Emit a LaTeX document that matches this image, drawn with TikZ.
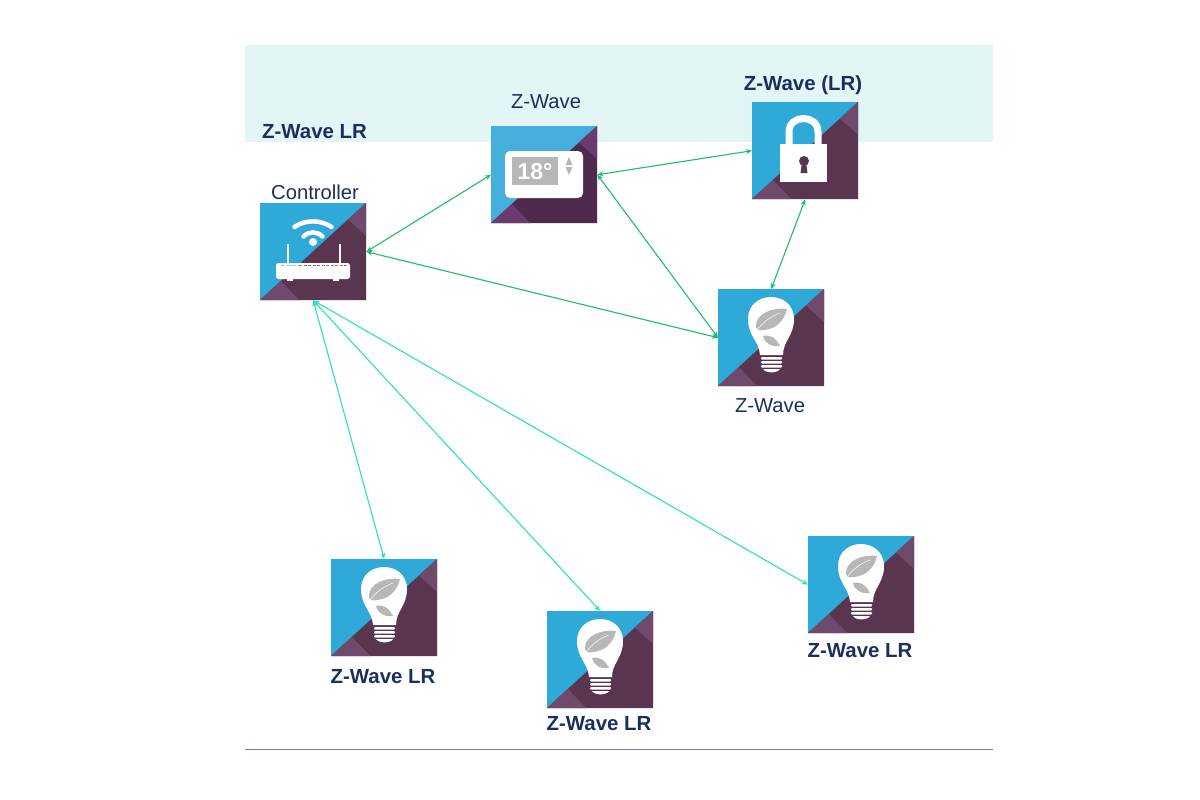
\documentclass[tikz,border=0pt]{standalone}
\usepackage{fontspec}
\setmainfont{Liberation Sans}
\usetikzlibrary{arrows.meta}
\definecolor{bandc}{HTML}{E4F5F6}
\definecolor{rulec}{HTML}{7E72C4}
\definecolor{inkc}{HTML}{1B2F5E}
\definecolor{bluea}{HTML}{2EA9D8}
\definecolor{darka}{HTML}{5A3550}
\definecolor{lighta}{HTML}{6F4A6C}
\definecolor{blueb}{HTML}{45AEDD}
\definecolor{darkb}{HTML}{50294E}
\definecolor{lightb}{HTML}{6B3A6E}
\definecolor{greyc}{HTML}{B7B7B7}
\definecolor{linka}{HTML}{1FBC70}
\definecolor{linkb}{HTML}{2FE0C0}
\newcommand{\tilefill}[3]{%
    \fill[#1] (0,0) rectangle (106,97);
    \fill[#2] (0,97) -- (106,0) -- (106,97) -- cycle;
    \fill[#3] (106,0) -- (106,33) -- (88,16.5) -- cycle;
    \fill[#3] (0,97) -- (21,78) -- (39,97) -- cycle;}
\tikzset{
  tile/.style={rectangle,inner sep=0pt,minimum width=106pt,minimum height=97pt,anchor=north west},
  plain/.style={text=inkc,font=\fontsize{20.2}{24}\selectfont,inner sep=0pt},
  strong/.style={text=inkc,font=\fontsize{20.4}{24}\selectfont\bfseries,inner sep=0pt},
  linkg/.style={draw=linka,line width=1.1pt,{Stealth[length=6pt,width=5pt]}-{Stealth[length=6pt,width=5pt]}},
  linkt/.style={draw=linkb,line width=1.1pt,{Stealth[length=6pt,width=5pt]}-{Stealth[length=6pt,width=5pt]}},
  bulbicon/.pic={
    \tilefill{bluea}{darka}{lighta}
    \fill[white] (42,66) .. controls (41,52) and (30,47) .. (30,30) .. controls (30,16) and (41,8) .. (53,8) .. controls (65,8) and (76,16) .. (76,30) .. controls (76,47) and (65,52) .. (65,66) -- cycle;
    \fill[greyc] (69,20) .. controls (56,18) and (37,24) .. (38,38) .. controls (39,41) and (42,42) .. (46,41) .. controls (57,40) and (66,33) .. (69,20) -- cycle;
    \draw[white,line width=0.5pt] (40,40) .. controls (46,32) and (54,27) .. (62,24);
    \fill[greyc] (45,47) .. controls (52,45) and (58,49) .. (62,57) .. controls (54,58) and (47,55) .. (45,47) -- cycle;
    \foreach \yy in {68,72,76} {\fill[white,rounded corners=1pt] (43,\yy) rectangle (64,\yy+2.6);}
    \fill[white] (45,80) .. controls (48,84.5) and (59,84.5) .. (62,80) -- cycle;
  },
  lockicon/.pic={
    \tilefill{bluea}{darka}{lighta}
    \draw[white,line width=7pt] (37,43) -- (37,30) .. controls (37,12) and (66,12) .. (66,30) -- (66,43);
    \fill[white] (28,42) rectangle (75,80);
    \fill[darka] (52,59) circle (5);
    \fill[darka] (50,60) -- (54,60) -- (55.5,71) -- (48.5,71) -- cycle;
  },
  thermoicon/.pic={
    \tilefill{blueb}{darkb}{lightb}
    \fill[white,rounded corners=5pt] (14,25) rectangle (92,72);
    \fill[greyc] (21,31) rectangle (67,59);
    \node[text=white,font=\fontsize{23}{24}\selectfont\bfseries,inner sep=0pt] (tempread) at (44,46) {18°};
    \fill[greyc] (74.5,39) -- (78,31) -- (81.5,39) -- cycle;
    \fill[greyc] (74.5,41) -- (78,49) -- (81.5,41) -- cycle;
  },
  routericon/.pic={
    \tilefill{bluea}{darka}{lighta}
    \draw[white,line width=4.5pt,line cap=round] (34.5,24) .. controls (45,16.5) and (61,16.5) .. (71.5,24);
    \draw[white,line width=4.5pt,line cap=round] (43.5,33.5) .. controls (49,28) and (57,28) .. (62.5,33.5);
    \fill[white] (53,39) circle (4);
    \draw[white,line width=2pt] (28,41) -- (28,62);
    \draw[white,line width=2pt] (80,41) -- (80,62);
    \fill[white,rounded corners=2.5pt] (16,60) rectangle (90,76);
    \fill[white] (27,75) rectangle (33,77.5);
    \fill[white] (73,75) rectangle (79,77.5);
    \draw[blueb!60,line width=1.2pt,dash pattern=on 4pt off 1.5pt] (21,62.5) -- (38,62.5);
    \draw[darka!70,line width=1.2pt,dash pattern=on 3pt off 1.5pt] (39,62.5) -- (87,62.5);
  },
}
\begin{document}
\begin{tikzpicture}[x=1pt,y=-1pt]
  \useasboundingbox (0,0) rectangle (1200,800);
  \fill[white] (0,0) rectangle (1200,800);
  \fill[bandc] (245,45) rectangle (993,142);
  \coordinate (ruleL) at (245,749.5);
  \coordinate (ruleR) at (993,749.5);
  \draw[rulec,line width=1pt] (ruleL) -- (ruleR);

  \node[strong,anchor=west] (bandlabel) at (262,132) {Z-Wave LR};

  \node[tile] (ctrl) at (260,203) {};
  \node[tile] (thermo) at (491,126) {};
  \node[tile] (lock) at (752,102) {};
  \node[tile] (bulbup) at (718,289) {};
  \node[tile] (lrone) at (331,559) {};
  \node[tile] (lrtwo) at (547,611) {};
  \node[tile] (lrthree) at (808,536) {};

  \pic at (ctrl.north west) {routericon};
  \pic at (thermo.north west) {thermoicon};
  \pic at (lock.north west) {lockicon};
  \pic at (bulbup.north west) {bulbicon};
  \pic at (lrone.north west) {bulbicon};
  \pic at (lrtwo.north west) {bulbicon};
  \pic at (lrthree.north west) {bulbicon};

  \node[plain] (ctrllabel) at (315,192) {Controller};
  \node[plain] (thermolabel) at (546,102) {Z-Wave};
  \node[strong] (locklabel) at (803,85) {Z-Wave (LR)};
  \node[plain] (bulbuplabel) at (770,406) {Z-Wave};
  \node[strong] (lronelabel) at (383,677) {Z-Wave LR};
  \node[strong] (lrtwolabel) at (599,724) {Z-Wave LR};
  \node[strong] (lrthreelabel) at (860,651) {Z-Wave LR};

  \draw[linkg] (ctrl.east) -- (thermo.west);
  \draw[linkg] (ctrl.east) -- (bulbup.west);
  \draw[linkg] (thermo.east) -- (lock.west);
  \draw[linkg] (thermo.east) -- (bulbup.west);
  \draw[linkg] (lock.south) -- (bulbup.north);
  \draw[linkt] (ctrl.south) -- (lrone.north);
  \draw[linkt] (ctrl.south) -- (lrtwo.north);
  \draw[linkt] (ctrl.south) -- (lrthree.west);
\end{tikzpicture}
\end{document}
